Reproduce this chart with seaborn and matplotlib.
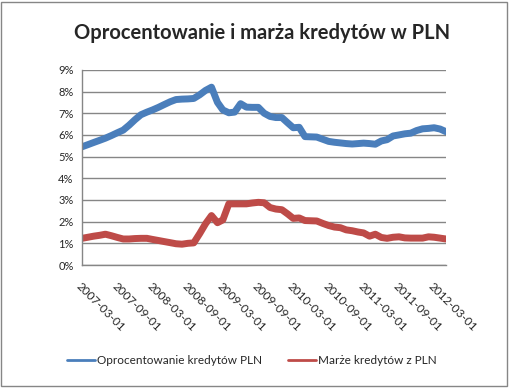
import matplotlib
matplotlib.use("Agg")
import matplotlib.pyplot as plt
import matplotlib.ticker as mticker
import matplotlib.patches as mpatches
import pandas as pd
import seaborn as sns

# monthly values, 2007-03 .. 2012-05 (in %)
start_month = "2007-03-01"
oprocentowanie = [5.45, 5.55, 5.65, 5.75, 5.85, 5.97, 6.10, 6.22, 6.45, 6.70,
                  6.93, 7.05, 7.15, 7.27, 7.40, 7.53, 7.63, 7.65, 7.66, 7.68,
                  7.85, 8.05, 8.20, 7.50, 7.15, 7.02, 7.05, 7.44, 7.28, 7.27,
                  7.27, 7.00, 6.85, 6.80, 6.80, 6.55, 6.33, 6.35, 5.92, 5.91,
                  5.90, 5.80, 5.70, 5.66, 5.63, 5.60, 5.58, 5.60, 5.62, 5.60,
                  5.57, 5.72, 5.78, 5.95, 6.00, 6.05, 6.08, 6.20, 6.28, 6.30,
                  6.33, 6.27, 6.15]
marza = [1.23, 1.28, 1.33, 1.37, 1.42, 1.35, 1.27, 1.20, 1.20, 1.22,
         1.23, 1.23, 1.18, 1.13, 1.08, 1.03, 0.98, 0.96, 1.00, 1.02,
         1.45, 1.90, 2.28, 1.95, 2.08, 2.82, 2.82, 2.82, 2.82, 2.86,
         2.89, 2.87, 2.65, 2.58, 2.55, 2.35, 2.15, 2.17, 2.05, 2.04,
         2.03, 1.92, 1.82, 1.75, 1.72, 1.62, 1.58, 1.52, 1.48, 1.33,
         1.42, 1.27, 1.23, 1.28, 1.30, 1.25, 1.24, 1.24, 1.24, 1.30,
         1.28, 1.24, 1.20]
series_names = ["Oprocentowanie kredytów PLN", "Marże kredytów z PLN"]
tick_dates = ["2007-03-01", "2007-09-01", "2008-03-01", "2008-09-01", "2009-03-01",
              "2009-09-01", "2010-03-01", "2010-09-01", "2011-03-01", "2011-09-01",
              "2012-03-01"]

dates = pd.date_range(start_month, periods=len(oprocentowanie), freq="MS")
df = pd.DataFrame({"data": dates, series_names[0]: oprocentowanie, series_names[1]: marza})
long_df = df.melt(id_vars="data", var_name="seria", value_name="wartosc")

sns.set_style("white")
plt.rcParams["font.family"] = ["Lato", "DejaVu Sans"]

fig = plt.figure(figsize=(5.09, 3.88), dpi=100)
ax = fig.add_axes([0.161, 0.317, 0.715, 0.503])

sns.lineplot(data=long_df, x="data", y="wartosc", hue="seria",
             palette=["#4a7ebb", "#be4b48"], linewidth=5, ax=ax, legend=False)

ax.set_ylim(0, 9)
ax.set_xlim(dates[0], dates[-1])
ax.yaxis.set_major_locator(mticker.MultipleLocator(1))
ax.yaxis.set_major_formatter(mticker.PercentFormatter(decimals=0))
ax.grid(axis="y", color="#868686", linewidth=1)
ax.set_axisbelow(True)

ticks = pd.to_datetime(tick_dates)
ax.set_xticks(ticks)
ax.set_xticklabels(tick_dates, rotation=-45, ha="left", va="top", rotation_mode="anchor")
ax.tick_params(axis="x", length=4, color="#868686", labelsize=8.5, pad=7)
ax.tick_params(axis="y", length=4, color="#868686", labelsize=8, pad=2)
ax.set_xlabel("")
ax.set_ylabel("")

for side in ["top", "right"]:
    ax.spines[side].set_visible(False)
for side in ["left", "bottom"]:
    ax.spines[side].set_color("#868686")
    ax.spines[side].set_linewidth(1)

fig.suptitle("Oprocentowanie i marża kredytów w PLN", x=0.515, y=0.94,
             fontsize=14.5, fontweight="bold")

handles = [plt.Line2D([], [], color="#4a7ebb", linewidth=2),
           plt.Line2D([], [], color="#be4b48", linewidth=2)]
fig.legend(handles, series_names, loc="center", bbox_to_anchor=(0.495, 0.07),
           ncol=2, frameon=False, fontsize=8.5, handlelength=2.4,
           handletextpad=0.15, columnspacing=2.2)

fig.patches.append(mpatches.Rectangle((0.002, 0.004), 0.994, 0.992, transform=fig.transFigure,
                                      fill=False, edgecolor="#868686", linewidth=1))

fig.savefig("out.png", dpi=100)
